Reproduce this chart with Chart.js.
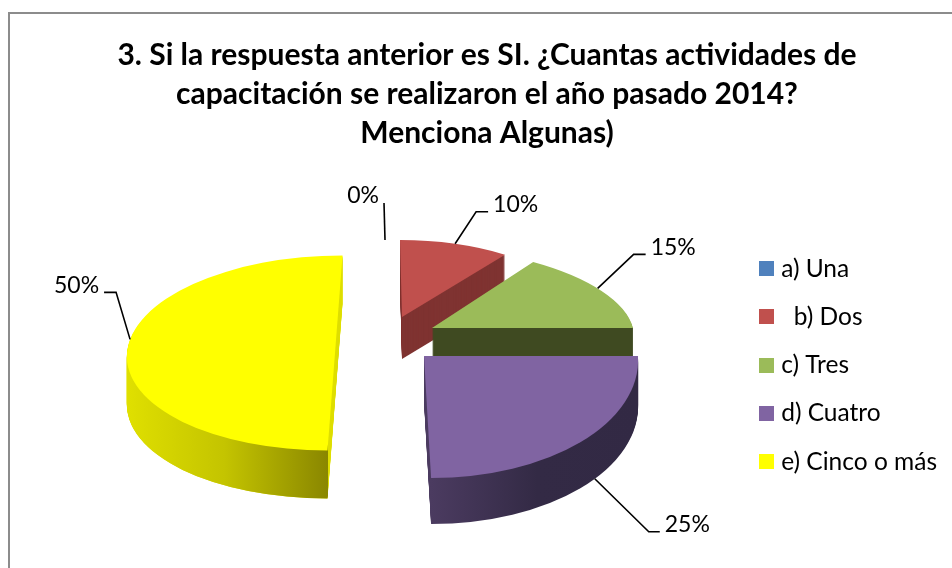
<!DOCTYPE html>
<html><head><meta charset="utf-8">
<style>html,body{margin:0;padding:0;background:#fff;overflow:hidden}#w{width:952px;height:568px;position:relative}</style>
<script src="https://cdn.jsdelivr.net/npm/chart.js@4"></script>
</head><body><div id="w"><canvas id="c" width="952" height="568"></canvas></div>
<script>
const categories = ['a) Una', '  b) Dos', 'c) Tres', 'd) Cuatro', 'e) Cinco o más'];
const values = [0, 10, 15, 25, 50];
const titleLines = ['3. Si la respuesta anterior es SI. ¿Cuantas actividades de', 'capacitación se realizaron el año pasado 2014?', 'Menciona Algunas)'];
const faceColors = ['#4F81BD', '#C0504D', '#9BBB59', '#8064A2', '#FFFF00'];
// 3D look, per slice
const explodeX = [3.2, 18.2, 48.2, 40.2, -48.8];
const explodeY = [-48.3, -48.3, -37.3, -9.3, -12.3];
const radiusX = [178, 178, 201, 214, 208];
const radiusY = [77, 77, 81.6, 122, 97.5];
const shear = [0.026, 0.026, 0.257, 0.058, -0.077];
const depth = [42, 42, 30, 46, 48];
const wallStops = [['#3A5F8B'], ['#7F3331'], ['#3F4A21'], ['#4B3B60', '#332A45', '#322944'], ['#E0E000', '#C4C400', '#8A8700']];
const leaderAngle = [0, 18, 61, 129, 278];
const leaderOnWall = [0, 0, 0, 1, 0];
const elbowX = [-1, 21, 36, 54, -14];
const elbowY = [-37, -32, -34, 53, -47];
const tailX = [0, 12, 12, 11, -12];
const labelSide = [-1, 1, 1, 1, -1];

function swatch(color){const s=document.createElement('canvas');s.width=15;s.height=15;const g=s.getContext('2d');g.fillStyle=color;g.fillRect(0,0,15,15);return s;}
function matrix(arc,i){const R=arc.outerRadius;const a=radiusX[i]/R,d=radiusY[i]/R,c=shear[i]*d;const X=arc.x+explodeX[i],Y=arc.y+explodeY[i];return {a,d,c,X,Y,e:X-a*arc.x-c*arc.y,f:Y-d*arc.y};}
const pie3d={id:'pie3d',
 beforeDraw(chart){const g=chart.ctx;g.save();g.strokeStyle='#8c8c8c';g.lineWidth=2;g.strokeRect(9,13,1200,1200);g.restore();},
 beforeDatasetsDraw(chart){
  const g=chart.ctx,arcs=chart.getDatasetMeta(0).data;
  arcs.forEach((arc,i)=>{
    const m=matrix(arc,i),base=arc.options;
    const apply=dy=>{g.setTransform(m.a,0,m.c,m.d,m.e,m.f+dy);};
    g.save();
    const stops=wallStops[i];
    let fill=stops[0];
    if(stops.length>1){const gr=g.createLinearGradient(i==4?arc.x-arc.outerRadius:arc.x,0,i==4?arc.x:arc.x+arc.outerRadius,0);stops.forEach((s,k)=>gr.addColorStop(k/(stops.length-1),s));fill=gr;}
    const paint=(color,dy)=>{apply(dy);arc.options=Object.assign({},base,{backgroundColor:color,borderWidth:0});arc.draw(g);};
    if(i==4){for(let d=depth[i];d>0;d--)paint('#DEDE00',d);
      g.save();g.setTransform(1,0,0,1,0,0);g.beginPath();g.rect(0,0,m.X-7,568);g.clip();for(let d=depth[i];d>0;d--)paint(fill,d);g.restore();}
    else for(let d=depth[i];d>0;d--)paint(fill,d);
    paint(faceColors[i],0);
    arc.options=base;
    g.restore();
  });
  // leaders
  const total=values.reduce((p,v)=>p+v,0);
  arcs.forEach((arc,i)=>{
    const m=matrix(arc,i),t=leaderAngle[i]*Math.PI/180,R=arc.outerRadius;
    const lx=R*Math.sin(t),ly=-R*Math.cos(t);
    const ax=m.X+m.a*lx+m.c*ly,ay=m.Y+m.d*ly+(leaderOnWall[i]?depth[i]:0);
    const ex=ax+elbowX[i],ey=ay+elbowY[i],tx=ex+tailX[i];
    g.save();g.strokeStyle='#000';g.lineWidth=1.6;g.beginPath();g.moveTo(ax,ay);g.lineTo(ex,ey);g.lineTo(tx,ey);g.stroke();
    g.fillStyle='#000';g.font='23px Lato';g.textBaseline='middle';g.textAlign=labelSide[i]>0?'left':'right';
    g.fillText(Math.round(values[i]/total*100)+'%',tx+labelSide[i]*5,ey-7);
    g.restore();
  });
  return false;
 }};
new Chart(document.getElementById('c'),{
 type:'pie',
 data:{labels:categories,datasets:[{data:values,backgroundColor:faceColors,borderWidth:0}]},
 plugins:[pie3d],
 options:{responsive:false,animation:false,
  layout:{padding:{left:27,right:5,top:16,bottom:0}},
  plugins:{
   tooltip:{enabled:false},
   title:{display:true,text:titleLines,color:'#000',padding:{top:20,bottom:9.5},font:{family:'Lato',weight:'bold',size:30,lineHeight:1.3}},
   legend:{position:'right',fullSize:false,labels:{usePointStyle:true,boxWidth:4.5,pointStyleWidth:4.5,padding:23.8,color:'#000',font:{family:'Lato',size:24.5},
     generateLabels(chart){return Chart.overrides.pie.plugins.legend.labels.generateLabels(chart).map((it,i)=>Object.assign(it,{pointStyle:swatch(faceColors[i])}));}}}
  }}
});
</script></body></html>
